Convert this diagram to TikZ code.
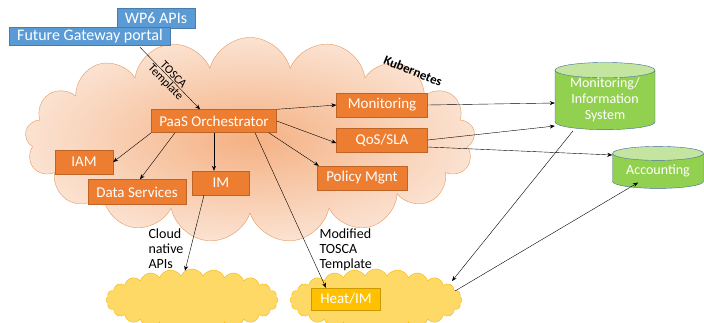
\documentclass[tikz,border=0pt]{standalone}
\usepackage{fontspec}
\setmainfont{Carlito}
\usepackage{tikz}
\usetikzlibrary{
  shapes.symbols,
  shapes.geometric,
  arrows.meta
}
\definecolor{officeorange}{HTML}{ED7D31}
\definecolor{officeblue}{HTML}{5B9BD5}
\definecolor{officegreen}{HTML}{92D050}
\definecolor{officegold}{HTML}{FFC000}
\colorlet{component}{officeorange}
\colorlet{portal}{officeblue}
\colorlet{store}{officegreen}
\colorlet{heat}{officegold}
\colorlet{kubeedge}{officeorange!70!brown!80}
\colorlet{site}{officegold!60}
\colorlet{siteedge}{officegold!85!brown}

\tikzset{
  comp/.style={draw=component!80!black,fill=component,text=white,
    font=\fontsize{15}{17}\selectfont,inner sep=0pt,minimum height=24pt},
  gw/.style={draw=portal!80!black,fill=portal,text=white,
    font=\fontsize{16}{18}\selectfont,inner sep=0pt},
  db/.style={cylinder,shape border rotate=90,aspect=0.22,draw=portal!70!black,
    cylinder uses custom fill,cylinder body fill=store,
    cylinder end fill=store!55!white,text=white,align=center,
    font=\fontsize{14}{16}\selectfont,inner sep=0pt},
  site cloud/.style={cloud,cloud puffs=24,cloud puff arc=130,cloud ignores aspect,
    minimum width=172pt,minimum height=62pt,draw=siteedge,fill=site},
  arr/.style={-{Stealth[length=5pt,width=4pt]},thin,black},
  lbl/.style={font=\fontsize{14}{15}\selectfont,align=left},
  tosca/.style={font=\fontsize{12}{13}\selectfont,inner sep=1pt}
}

\begin{document}
\begin{tikzpicture}[x=1pt,y=-1pt]
\useasboundingbox (0,0) rectangle (704,322);
\clip (0,0) rectangle (704,322);
\node[cloud,cloud puffs=17,aspect=2.3,minimum width=450pt,minimum height=205pt,
  draw=kubeedge,inner color=officeorange!60,outer color=officeorange!22] (k8s) at (250,140) {};
\node[font=\fontsize{13}{15}\selectfont\bfseries,rotate=-22] (k8slbl) at (413,71) {Kubernetes};
\node[site cloud] (cloudapis) at (192,300) {};
\node[site cloud] (heatcloud) at (376,300) {};
\node[gw,minimum width=78pt,minimum height=20pt] (wp6) at (156,18) {WP6 APIs};
\node[gw,minimum width=161pt,minimum height=18pt] (fgportal) at (90,36) {Future Gateway portal};
\node[comp,minimum width=125pt,minimum height=23pt] (orch) at (214,121) {PaaS Orchestrator};
\node[comp,minimum width=91pt] (monitoring) at (382,105) {Monitoring};
\node[comp,minimum width=91pt] (qos) at (382,140) {QoS/SLA};
\node[comp,minimum width=58pt] (iam) at (84,162) {IAM};
\node[comp,minimum width=98pt,minimum height=25pt] (datasvc) at (137,192) {Data Services};
\node[comp,minimum width=57pt] (im) at (221,183) {IM};
\node[comp,minimum width=90pt] (policy) at (362,178) {Policy Mgnt};
\node[comp,draw=heat!80!black,fill=heat,minimum width=69pt,minimum height=22pt] (heatim) at (346,299) {Heat/IM};
\node[db,minimum width=100pt,minimum height=67pt] (moninfo) at (605,100) {Monitoring/\\Information\\System};
\node[db,minimum width=91pt,minimum height=42pt] (accounting) at (658,171) {Accounting};
\node[lbl,anchor=north west] (apislbl) at (145,225) {Cloud\\native\\APIs};
\node[lbl,anchor=north west] (toscalbl) at (316,225) {Modified\\TOSCA\\Template};
\coordinate (heatne) at (452,281);
\coordinate (heate) at (455,291);
\draw[arr] ([xshift=50pt,yshift=-2pt]fgportal.south) -- node[sloped,above,tosca]{TOSCA}
  node[sloped,below,tosca]{Template} ([xshift=-14pt]orch.north);
\draw[arr] (orch.north east) -- (monitoring.west);
\draw[arr] (orch.east) -- ([yshift=-3pt]qos.west);
\draw[arr] ([xshift=-8pt]orch.south east) -- ([xshift=2pt]policy.north west);
\draw[arr] (orch.south west) -- (iam.east);
\draw[arr] ([xshift=-39pt]orch.south) -- ([xshift=3pt]datasvc.north);
\draw[arr] (orch.south) -- (orch.south |- im.north);
\draw[arr] ([xshift=41pt]orch.south) -- ([xshift=-20pt]heatim.north);
\draw[arr] ([xshift=-17pt]im.south) -- ([xshift=-7pt,yshift=-2pt]cloudapis.north);
\draw[arr] (monitoring.east) -- ([yshift=-3pt]moninfo.west);
\draw[arr] (qos.east) -- ([yshift=-26pt]moninfo.west);
\draw[arr] ([yshift=-7pt]qos.east) -- ([yshift=16pt]accounting.west);
\draw[arr] ([xshift=-32pt,yshift=-1pt]moninfo.south) -- (heatne);
\draw[arr] (heate) -- ([xshift=-20pt,yshift=6pt]accounting.south);
\end{tikzpicture}
\end{document}
